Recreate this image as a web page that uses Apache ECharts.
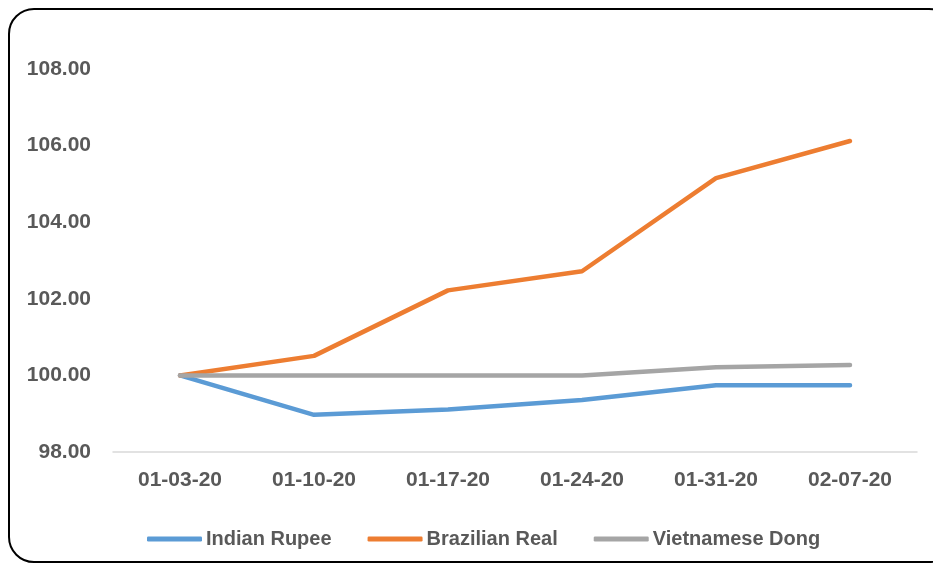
<!DOCTYPE html>
<html lang="en">
  <head>
    <meta charset="UTF-8" />
    <script src="https://cdn.jsdelivr.net/npm/echarts@6/dist/echarts.min.js"></script>
    <title>Currency index</title>
    <style>
      html, body { margin: 0; padding: 0; background: #fff; }
    </style>
  </head>
  <body>
    <div id="container" style="width: 933px; height: 566px;"></div>

    <script>
      // dates and indexed values
      const dates = ["01-03-20", "01-10-20", "01-17-20", "01-24-20", "01-31-20", "02-07-20"];
      const indianRupee = [100, 98.97, 99.11, 99.36, 99.74, 99.74];
      const brazilianReal = [100, 100.51, 102.22, 102.72, 105.15, 106.12];
      const vietnameseDong = [100, 100, 100, 100, 100.21, 100.27];

      const textColor = "#595959";
      const font = "Liberation Sans";

      const myChart = echarts.init(document.getElementById("container"));

      function lineSeries(name, data, color) {
        return {
          name: name,
          type: "line",
          data: data,
          symbol: "none",
          color: color,
          lineStyle: { width: 4.5, color: color, cap: "round", join: "round" },
        };
      }

      const option = {
        animation: false,
        textStyle: { fontFamily: font },
        graphic: [
          {
            type: "rect",
            shape: { x: 9, y: 9, width: 945, height: 553, r: 25 },
            style: { fill: "none", stroke: "#000", lineWidth: 2 },
            z: -1,
          },
        ],
        grid: { left: 113, right: 16, top: 69, bottom: 114 },
        xAxis: {
          type: "category",
          data: dates,
          axisLine: { lineStyle: { color: "#D9D9D9", width: 1.5 } },
          axisTick: { show: false },
          axisLabel: {
            margin: 18,
            color: textColor,
            fontSize: 21,
            fontWeight: "bold",
            fontFamily: font,
          },
        },
        yAxis: {
          type: "value",
          min: 98,
          max: 108,
          interval: 2,
          splitLine: { show: false },
          axisLine: { show: false },
          axisTick: { show: false },
          axisLabel: {
            margin: 22,
            color: textColor,
            fontSize: 21,
            fontWeight: "bold",
            fontFamily: font,
            formatter: (v) => v.toFixed(2),
          },
        },
        legend: {
          left: 142,
          top: 524,
          icon: "roundRect",
          itemWidth: 55,
          itemHeight: 5,
          itemGap: 36,
          textStyle: {
            color: textColor,
            fontSize: 20,
            fontWeight: "bold",
            fontFamily: font,
            padding: [0, 0, 0, -1],
          },
        },
        series: [
          lineSeries("Indian Rupee", indianRupee, "#5B9BD5"),
          lineSeries("Brazilian Real", brazilianReal, "#ED7D31"),
          lineSeries("Vietnamese Dong", vietnameseDong, "#A5A5A5"),
        ],
      };

      myChart.setOption(option);
    </script>
  </body>
</html>
